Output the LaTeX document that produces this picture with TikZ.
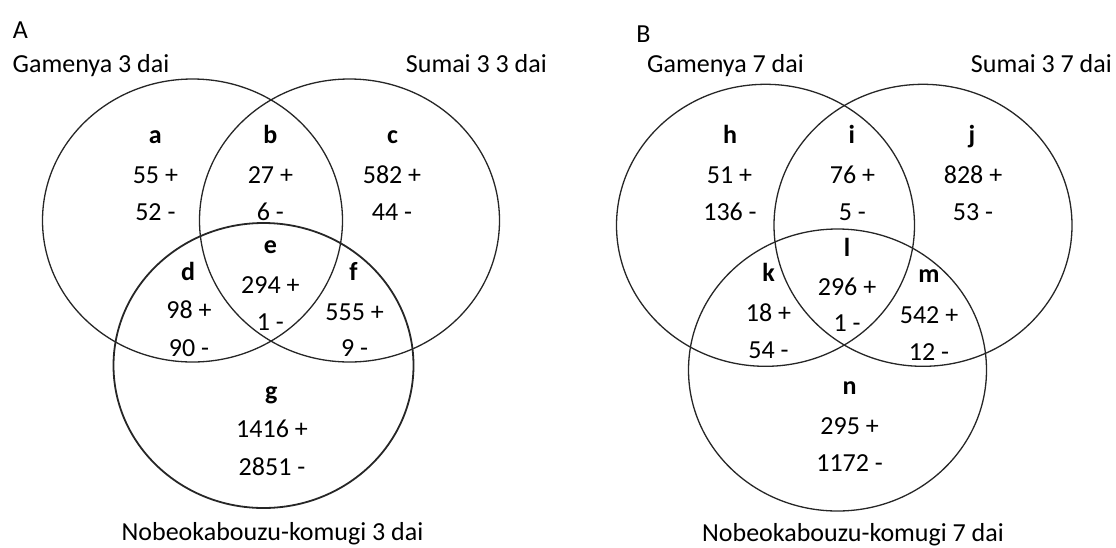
\documentclass[tikz,border=0pt]{standalone}
\usepackage{fontspec}
\setmainfont{Carlito}
\usetikzlibrary{shapes.geometric}
\tikzset{
  txt/.style={anchor=base, inner sep=0pt, font=\fontsize{26}{31}\selectfont, text=black},
  lbl/.style={txt, font=\fontsize{26}{31}\selectfont\bfseries},
  venn/.style={draw=black!85, line width=1.3pt, ellipse, inner sep=0pt},
  vennA/.style={venn, minimum width=300pt, minimum height=283pt},
  vennB/.style={venn, minimum width=298pt, minimum height=282pt}
}
\begin{document}
\begin{tikzpicture}[x=1pt,y=-1pt]
\useasboundingbox (0,0) rectangle (1116,547);
% ---------- Panel A ----------
\node[vennA] (gA) at (192.5,220.5) {};
\node[vennA] (sA) at (349.5,220.5) {};
\node[vennA, minimum height=285pt, line width=1.8pt] (nA) at (263.5,365.5) {};
\node[txt] (tA) at (20.5,38.3) {A};
\node[txt, anchor=base west] (tgA) at (12.5,72.5) {Gamenya 3 dai};
\node[txt, anchor=base east] (tsA) at (547,72) {Sumai 3 3 dai};
\node[txt] (tnA) at (272.5,540.5) {Nobeokabouzu-komugi 3 dai};
\node[lbl] (la) at (155.4,143) {a};
\node[txt] (a1) at (155.4,183.3) {55 +};
\node[txt] (a2) at (155.4,220) {52 -};
\node[lbl] (lb) at (270.4,143) {b};
\node[txt] (b1) at (270.4,183.3) {27 +};
\node[txt] (b2) at (270.4,220) {6 -};
\node[lbl] (lc) at (392.5,143) {c};
\node[txt] (c1) at (392,183.3) {582 +};
\node[txt] (c2) at (392,220) {44 -};
\node[lbl] (le) at (270.4,253.5) {e};
\node[txt] (e1) at (270.4,293) {294 +};
\node[txt] (e2) at (270.4,330) {1 -};
\node[lbl] (ld) at (188,280) {d};
\node[txt] (d1) at (189,318.3) {98 +};
\node[txt] (d2) at (189,356.3) {90 -};
\node[lbl] (lf) at (353.6,280) {f};
\node[txt] (f1) at (354.6,320) {555 +};
\node[txt] (f2) at (354.6,356.3) {9 -};
\node[lbl] (lg) at (271.4,399) {g};
\node[txt] (g1) at (272,437.3) {1416 +};
\node[txt] (g2) at (272,475.3) {2851 -};
% ---------- Panel B ----------
\node[vennB] (gB) at (765.5,225.3) {};
\node[vennB] (sB) at (923,225.3) {};
\node[vennB] (nB) at (837.5,370) {};
\node[txt] (tB) at (643.5,42.5) {B};
\node[txt, anchor=base west] (tgB) at (647,72.5) {Gamenya 7 dai};
\node[txt, anchor=base east] (tsB) at (1112,72) {Sumai 3 7 dai};
\node[txt] (tnB) at (853,541) {Nobeokabouzu-komugi 7 dai};
\node[lbl] (lh) at (730,143.3) {h};
\node[txt] (h1) at (729.5,183.3) {51 +};
\node[txt] (h2) at (730,220) {136 -};
\node[lbl] (li) at (851.7,143.3) {i};
\node[txt] (i1) at (852.4,183.3) {76 +};
\node[txt] (i2) at (852.4,220) {5 -};
\node[lbl] (lj) at (972,143.3) {j};
\node[txt] (j1) at (973,183.3) {828 +};
\node[txt] (j2) at (973,220) {53 -};
\node[lbl] (ll) at (847,256.7) {l};
\node[txt] (l1) at (847,295) {296 +};
\node[txt] (l2) at (847,331.3) {1 -};
\node[lbl] (lk) at (768.5,281.7) {k};
\node[txt] (k1) at (768.5,321) {18 +};
\node[txt] (k2) at (768.5,358.3) {54 -};
\node[lbl] (lm) at (929,282) {m};
\node[txt] (m1) at (929,323.3) {542 +};
\node[txt] (m2) at (929,360) {12 -};
\node[lbl] (ln) at (849.6,394.3) {n};
\node[txt] (n1) at (849.6,434.3) {295 +};
\node[txt] (n2) at (849.6,471) {1172 -};
\end{tikzpicture}
\end{document}
